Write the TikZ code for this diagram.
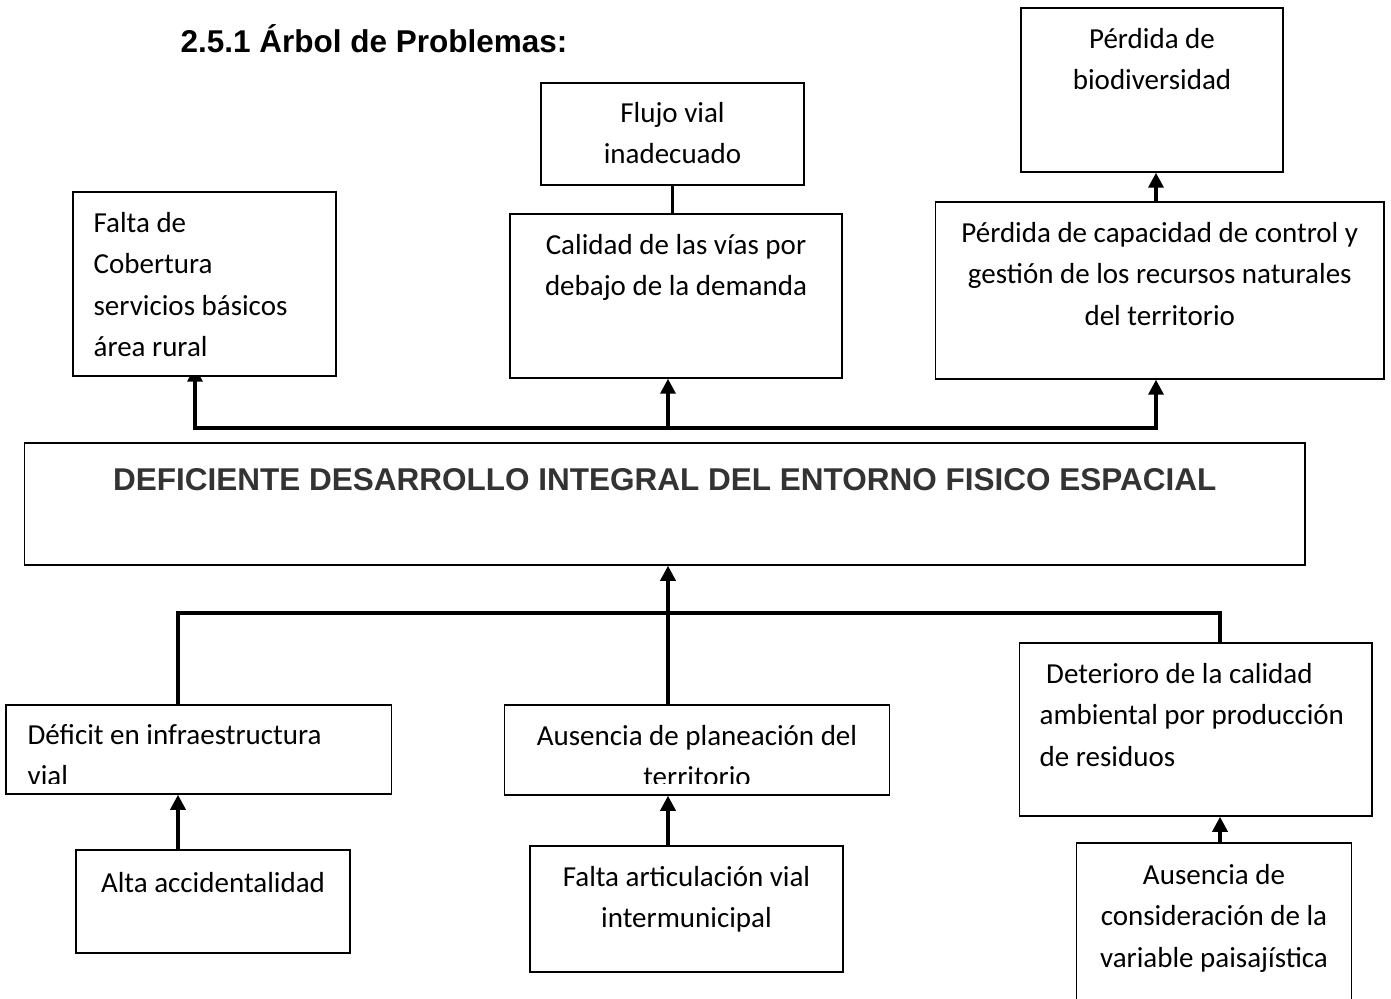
\documentclass[tikz,border=0pt]{standalone}
\usepackage{fontspec}
\setmainfont{Carlito}
\newfontfamily\headfont{Liberation Sans}
\usepackage{tikz}
\usetikzlibrary{arrows.meta, backgrounds}
\definecolor{headgray}{HTML}{333333}
\tikzset{
  box/.style={
    draw=black,
    fill=white,
    line width=0.75pt,
    inner sep=0pt
  },
  boxtext/.style={
    font=\fontsize{14.5}{20.75}\selectfont,
    align=center,
    inner sep=0pt,
    anchor=base
  },
  leftboxtext/.style={boxtext, align=left, anchor=base west},
  headtext/.style={
    font=\headfont\bfseries\fontsize{15.75}{19}\selectfont,
    inner sep=0pt,
    anchor=base
  },
  link/.style={line width=1.75pt},
  uplink/.style={link, -{Triangle[width=7.5pt, length=7.5pt]}}
}

\begin{document}
\begin{tikzpicture}[x=0.5pt, y=-0.5pt]
  \clip (0,0) rectangle (1391,999);

  % Title
  \node[headtext] (titulo) at (374,53) {2.5.1 Árbol de Problemas:};

  % Effects
  \node[box, minimum width=131.5pt, minimum height=92pt] (falta) at (204.5,284) {};
  \node[box, minimum width=131.5pt, minimum height=51pt] (flujo) at (672.5,134) {};
  \node[box, minimum width=166pt, minimum height=82pt] (calidad) at (676,296) {};
  \node[box, minimum width=131pt, minimum height=82pt] (biodiv) at (1152,90) {};
  \node[box, minimum width=224.25pt, minimum height=88.5pt] (capacidad) at (1159.75,290.5) {};

  % (base anchor = last line, so shift by the lines below the first)
  \node[leftboxtext] (falta-t) at ([xshift=10.5pt, yshift=-82.75pt]falta.north west) {Falta de\\Cobertura\\servicios básicos\\área rural};
  \node[boxtext] (flujo-t) at ([yshift=-40.75pt]flujo.north) {Flujo vial\\inadecuado};
  \node[boxtext] (calidad-t) at ([yshift=-41.25pt]calidad.north) {Calidad de las vías por\\debajo de la demanda};
  \node[boxtext] (biodiv-t) at ([yshift=-41.25pt]biodiv.north) {Pérdida de\\biodiversidad};
  \node[boxtext] (capacidad-t) at ([yshift=-62pt]capacidad.north) {Pérdida de capacidad de control y\\gestión de los recursos naturales\\del territorio};

  % Central problem
  \node[box, minimum width=640.25pt, minimum height=61pt] (problema) at (664.75,504) {};
  \node[headtext, text=headgray] (problema-t) at ([yshift=-24pt]problema.north) {DEFICIENTE DESARROLLO INTEGRAL DEL ENTORNO FISICO ESPACIAL};

  % Causes
  \node[box, minimum width=192.75pt, minimum height=44.5pt] (deficit) at (198.75,749.5) {};
  \node[box, minimum width=192.5pt, minimum height=45pt] (planeacion) at (697,750) {};
  \node[box, minimum width=176.25pt, minimum height=86.5pt] (deterioro) at (1195.75,729.5) {};
  \node[box, minimum width=137pt, minimum height=51.5pt] (alta) at (213,901.5) {};
  \node[box, minimum width=156.5pt, minimum height=63pt] (articulacion) at (686.5,909) {};
  \node[box, minimum width=137.5pt, minimum height=83.5pt] (paisaje) at (1214,926.5) {};

  \begin{scope}
    \clip (0,700) rectangle (1000,783);
    \node[leftboxtext] (deficit-t) at ([xshift=11pt, yshift=-40.75pt]deficit.north west) {Déficit en infraestructura\\vial};
    \node[boxtext] (planeacion-t) at ([yshift=-41.25pt]planeacion.north) {Ausencia de planeación del\\territorio};
  \end{scope}
  \node[leftboxtext] (deterioro-t) at ([xshift=10.25pt, yshift=-62pt]deterioro.north west) {~Deterioro de la calidad\\ambiental por producción\\de residuos};
  \node[boxtext] (alta-t) at ([yshift=-21.5pt]alta.north) {Alta accidentalidad};
  \node[boxtext] (articulacion-t) at ([yshift=-41.25pt]articulacion.north) {Falta articulación vial\\intermunicipal};
  \node[boxtext] (paisaje-t) at ([yshift=-62.5pt]paisaje.north) {Ausencia de\\consideración de la\\variable paisajística};

  % Branch points
  \coordinate (topL) at (195,428);
  \coordinate (topM) at (668,428);
  \coordinate (topR) at (1156,428);
  \coordinate (lowL) at (178,613);
  \coordinate (lowM) at (668,613);
  \coordinate (lowR) at (1220,613);

  % Upper connectors
  \begin{scope}[on background layer]
    \draw[uplink, shorten >=-5pt] (topM) -- (topL) -- (topL |- falta.south);
  \end{scope}
  \draw[uplink] (topM) -- (topM |- calidad.south);
  \draw[uplink] (topM) -- (topR) -- (topR |- capacidad.south);
  \draw[uplink] (topR |- capacidad.north) -- (topR |- biodiv.south);
  \draw[link] (flujo.south) -- (flujo.south |- calidad.north);

  % Lower connectors
  \draw[link] (lowL |- deficit.north) -- (lowL) -- (lowR) -- (lowR |- deterioro.north);
  \draw[uplink] (lowM |- planeacion.north) -- (lowM |- problema.south);
  \draw[uplink] (lowL |- alta.north) -- (lowL |- deficit.south);
  \draw[uplink] (lowM |- articulacion.north) -- (lowM |- planeacion.south);
  \draw[uplink] (lowR |- paisaje.north) -- (lowR |- deterioro.south);
\end{tikzpicture}
\end{document}
